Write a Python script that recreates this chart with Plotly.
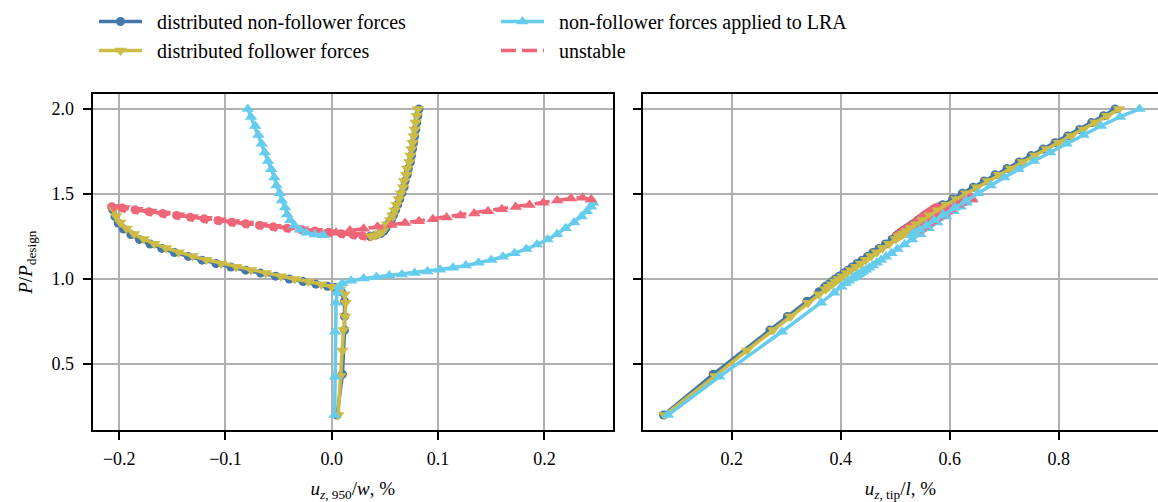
import plotly.graph_objects as go

# ---------------- data ----------------
# distributed non-follower forces
NF_P = [0.200, 0.440, 0.700, 0.780, 0.870, 0.925, 0.950,
        0.957, 0.970, 0.985, 1.000, 1.017, 1.035, 1.052, 1.071, 1.091, 1.111, 1.133, 1.156, 1.180, 1.206, 1.233, 1.262, 1.294, 1.329, 1.367, 1.407,
        1.424,
        1.417, 1.407, 1.396, 1.385, 1.374, 1.364, 1.354, 1.344, 1.334, 1.325, 1.316, 1.307, 1.299, 1.291, 1.283, 1.275, 1.267, 1.260, 1.254, 1.251,
        1.258, 1.268, 1.282, 1.300, 1.322, 1.347, 1.375, 1.405, 1.437, 1.470, 1.505, 1.540, 1.576, 1.613, 1.650, 1.688, 1.726, 1.764, 1.802, 1.841, 1.880, 1.920, 1.960, 2.000]
NF_U950 = [0.005, 0.010, 0.012, 0.012, 0.012, 0.009, 0.003,
           -0.004, -0.015, -0.027, -0.040, -0.053, -0.067, -0.081, -0.095, -0.109, -0.122, -0.135, -0.148, -0.160, -0.171, -0.181, -0.189, -0.196, -0.201, -0.204, -0.206,
           -0.207,
           -0.197, -0.185, -0.172, -0.159, -0.146, -0.133, -0.120, -0.107, -0.094, -0.081, -0.068, -0.055, -0.042, -0.029, -0.016, -0.003, 0.009, 0.020, 0.029, 0.036,
           0.041, 0.046, 0.049, 0.051, 0.053, 0.056, 0.058, 0.060, 0.062, 0.064, 0.066, 0.068, 0.069, 0.071, 0.072, 0.074, 0.075, 0.076, 0.077, 0.078, 0.079, 0.080, 0.081, 0.082]
NF_UTIP = [0.075, 0.166, 0.270, 0.302, 0.338, 0.360, 0.370,
           0.372, 0.378, 0.384, 0.390, 0.397, 0.405, 0.413, 0.421, 0.430, 0.439, 0.449, 0.459, 0.470, 0.482, 0.494, 0.507, 0.521, 0.537, 0.554, 0.572,
           0.579,
           0.573, 0.568, 0.563, 0.558, 0.553, 0.549, 0.545, 0.541, 0.537, 0.533, 0.529, 0.525, 0.521, 0.517, 0.513, 0.510, 0.507, 0.504, 0.502, 0.501,
           0.504, 0.508, 0.514, 0.522, 0.532, 0.543, 0.556, 0.571, 0.587, 0.605, 0.623, 0.643, 0.663, 0.683, 0.705, 0.727, 0.749, 0.771, 0.793, 0.816, 0.838, 0.860, 0.882, 0.903]
NF_UNSTABLE = (27, 47)

# distributed follower forces
FF_P = [0.200, 0.430, 0.580, 0.700, 0.780, 0.860, 0.910, 0.940,
        0.955, 0.970, 0.985, 1.000, 1.017, 1.035, 1.053, 1.072, 1.092, 1.113, 1.135, 1.158, 1.182, 1.208, 1.235, 1.265, 1.297, 1.332, 1.370, 1.410,
        1.425,
        1.418, 1.408, 1.397, 1.386, 1.375, 1.365, 1.355, 1.345, 1.335, 1.326, 1.317, 1.308, 1.300, 1.292, 1.284, 1.276, 1.268, 1.261, 1.255, 1.252,
        1.258, 1.268, 1.282, 1.300, 1.322, 1.347, 1.375, 1.405, 1.437, 1.470, 1.505, 1.540, 1.576, 1.613, 1.650, 1.688, 1.726, 1.764, 1.802, 1.841, 1.880, 1.920, 1.960, 2.000]
FF_U950 = [0.006, 0.008, 0.010, 0.011, 0.0125, 0.013, 0.012, 0.008,
           0.000, -0.010, -0.022, -0.035, -0.048, -0.062, -0.076, -0.090, -0.104, -0.118, -0.131, -0.144, -0.156, -0.167, -0.177, -0.186, -0.193, -0.199, -0.203, -0.205,
           -0.205,
           -0.195, -0.183, -0.170, -0.157, -0.144, -0.131, -0.118, -0.105, -0.092, -0.079, -0.066, -0.053, -0.040, -0.027, -0.014, -0.001, 0.011, 0.022, 0.031, 0.037,
           0.041, 0.045, 0.048, 0.050, 0.052, 0.055, 0.057, 0.059, 0.061, 0.063, 0.065, 0.067, 0.068, 0.070, 0.071, 0.073, 0.074, 0.075, 0.076, 0.077, 0.078, 0.079, 0.080, 0.081]
FF_UTIP = [0.077, 0.170, 0.228, 0.276, 0.308, 0.340, 0.360, 0.372,
           0.378, 0.384, 0.390, 0.396, 0.403, 0.411, 0.419, 0.428, 0.437, 0.446, 0.456, 0.466, 0.477, 0.489, 0.501, 0.515, 0.529, 0.545, 0.562, 0.580,
           0.586,
           0.578, 0.573, 0.568, 0.563, 0.558, 0.554, 0.550, 0.546, 0.542, 0.538, 0.534, 0.530, 0.526, 0.522, 0.518, 0.515, 0.512, 0.509, 0.507, 0.506,
           0.511, 0.515, 0.521, 0.529, 0.539, 0.550, 0.563, 0.578, 0.594, 0.612, 0.630, 0.650, 0.670, 0.690, 0.712, 0.734, 0.756, 0.778, 0.800, 0.823, 0.845, 0.867, 0.889, 0.910]
FF_UNSTABLE = (28, 48)

# non-follower forces applied to LRA
LRA_P = [0.200, 0.425, 0.690, 0.860, 0.920, 0.955,
         0.975, 0.990, 1.003, 1.012, 1.020, 1.027, 1.035, 1.044, 1.054, 1.066, 1.080, 1.095, 1.112, 1.131, 1.152, 1.176, 1.203, 1.232, 1.264, 1.298, 1.333, 1.368, 1.398, 1.425, 1.448, 1.468,
         1.478, 1.474, 1.462, 1.449, 1.436, 1.423, 1.410, 1.398, 1.386, 1.374, 1.362, 1.351, 1.340, 1.329, 1.318, 1.307, 1.296, 1.285, 1.272, 1.258,
         1.262, 1.272, 1.290, 1.315, 1.345, 1.380, 1.420, 1.462, 1.505, 1.550, 1.597, 1.645, 1.694, 1.744, 1.795, 1.847, 1.900, 1.953, 2.000]
LRA_U950 = [0.0027, 0.003, 0.003, 0.004, 0.005, 0.007,
            0.010, 0.018, 0.030, 0.042, 0.054, 0.066, 0.078, 0.090, 0.102, 0.114, 0.126, 0.138, 0.150, 0.161, 0.172, 0.183, 0.193, 0.203, 0.212, 0.220, 0.228, 0.235, 0.240, 0.244, 0.246, 0.244,
            0.236, 0.225, 0.212, 0.199, 0.186, 0.173, 0.160, 0.147, 0.134, 0.121, 0.108, 0.095, 0.082, 0.069, 0.056, 0.043, 0.030, 0.017, 0.004, -0.008,
            -0.016, -0.024, -0.030, -0.035, -0.039, -0.042, -0.044, -0.047, -0.049, -0.052, -0.054, -0.057, -0.060, -0.063, -0.066, -0.069, -0.072, -0.076, -0.079]
LRA_UTIP = [0.083, 0.177, 0.292, 0.364, 0.388, 0.401,
            0.409, 0.415, 0.421, 0.425, 0.429, 0.433, 0.437, 0.441, 0.446, 0.452, 0.459, 0.466, 0.474, 0.483, 0.493, 0.504, 0.517, 0.531, 0.546, 0.561, 0.577, 0.593, 0.607, 0.620, 0.631, 0.641,
            0.640, 0.635, 0.628, 0.621, 0.614, 0.607, 0.601, 0.595, 0.589, 0.583, 0.577, 0.572, 0.567, 0.562, 0.557, 0.552, 0.547, 0.542, 0.536, 0.530,
            0.532, 0.537, 0.545, 0.557, 0.571, 0.588, 0.609, 0.630, 0.652, 0.675, 0.700, 0.726, 0.754, 0.784, 0.814, 0.845, 0.877, 0.912, 0.948]
LRA_UNSTABLE = (31, 51)

LEFT_TICKS = [-0.2, -0.1, 0.0, 0.1, 0.2]
RIGHT_TICKS = [0.2, 0.4, 0.6, 0.8]
Y_TICKS = [0.5, 1.0, 1.5, 2.0]

# ---------------- style ----------------
BLUE, YELLOW, CYAN, RED = "#4477AA", "#CCBB44", "#66CCEE", "#EE6677"
FONT = "Liberation Serif"
LW = 3.5
DASH = "15px,6px"

fig = go.Figure()


def add_series(P, u950, utip, unstable, color, symbol, size):
    i0, i1 = unstable
    segs = [(0, i0 + 1, color, "solid"), (i0, i1 + 1, RED, DASH), (i1, len(P), color, "solid")]
    for xs, xa, ya in [(u950, "x", "y"), (utip, "x2", "y2")]:
        for a, b, c, d in segs:
            fig.add_trace(go.Scatter(
                x=xs[a:b], y=P[a:b], mode="lines+markers",
                line=dict(color=c, width=LW, dash=d),
                marker=dict(symbol=symbol, size=size, color=c),
                xaxis=xa, yaxis=ya, showlegend=False, hoverinfo="skip"))


add_series(NF_P, NF_U950, NF_UTIP, NF_UNSTABLE, BLUE, "circle", 9)
add_series(FF_P, FF_U950, FF_UTIP, FF_UNSTABLE, YELLOW, "triangle-down", 11)
add_series(LRA_P, LRA_U950, LRA_UTIP, LRA_UNSTABLE, CYAN, "triangle-up", 11)

# legend entries
SP = "\u2002"
legend_items = [
    ("distributed non-follower forces", BLUE, "circle", 9, "solid", "legend", True),
    ("distributed follower forces", YELLOW, "triangle-down", 11, "solid", "legend", True),
    ("non-follower forces applied to LRA", CYAN, "triangle-up", 11, "solid", "legend2", True),
    ("unstable", RED, "circle", 1, DASH, "legend2", False),
]
for i, (name, c, sym, sz, d, lg, mk) in enumerate(legend_items):
    fig.add_trace(go.Scatter(
        x=[None], y=[None], name=SP + name,
        mode="lines+markers" if mk else "lines",
        line=dict(color=c, width=LW, dash=d),
        marker=dict(symbol=sym, size=sz, color=c),
        legend=lg, legendgroup=f"g{i}", xaxis="x", yaxis="y"))

axis_common = dict(
    showline=True, linecolor="black", linewidth=2, mirror=True,
    ticks="outside", ticklen=8, tickwidth=1.5, tickcolor="black",
    showgrid=True, gridcolor="#b0b0b0", gridwidth=1.5,
    zeroline=False, automargin=False,
    tickfont=dict(family=FONT, size=18, color="black"),
)

ydom = [0.1434, 0.8122]
legend_common = dict(y=1.0 - 2 / 502, xanchor="left", yanchor="top", orientation="v",
                     font=dict(family=FONT, size=20, color="black"), bgcolor="rgba(0,0,0,0)",
                     itemwidth=43, tracegroupgap=0)
fig.update_layout(
    width=1158, height=502,
    margin=dict(l=0, r=0, t=0, b=0),
    paper_bgcolor="white", plot_bgcolor="white",
    font=dict(family=FONT, size=18, color="black"),
    xaxis=dict(domain=[0.0799, 0.5294], range=[-0.2251, 0.2646], tickvals=LEFT_TICKS,
               ticktext=[f"{v:.1f}".replace("-", "\u2212") for v in LEFT_TICKS],
               ticklabelstandoff=3,
               title=dict(text="<i>u</i><sub><i>z</i>, 950</sub>/<i>w</i>, %", standoff=14,
                          font=dict(family=FONT, size=19)),
               anchor="y", **axis_common),
    yaxis=dict(domain=ydom, range=[0.112, 2.0865], tickvals=Y_TICKS,
               ticktext=[f"{v:.1f}" for v in Y_TICKS],
               ticklabelstandoff=5,
               title=dict(text="<i>P</i>/<i>P</i><sub>design</sub>", standoff=14,
                          font=dict(family=FONT, size=19)),
               anchor="x", **axis_common),
    xaxis2=dict(domain=[0.5555, 0.9996], range=[0.0378, 0.981], tickvals=RIGHT_TICKS,
                ticktext=[f"{v:.1f}" for v in RIGHT_TICKS],
                ticklabelstandoff=3,
                title=dict(text="<i>u</i><sub><i>z</i>, tip</sub>/<i>l</i>, %", standoff=14,
                           font=dict(family=FONT, size=19)),
                anchor="y2", **axis_common),
    yaxis2=dict(domain=ydom, range=[0.112, 2.0865], tickvals=Y_TICKS, showticklabels=False,
                matches="y", anchor="x2", **axis_common),
    legend=dict(x=94 / 1158, **legend_common),
    legend2=dict(x=496 / 1158, **legend_common),
)

fig.write_html("out.html")
